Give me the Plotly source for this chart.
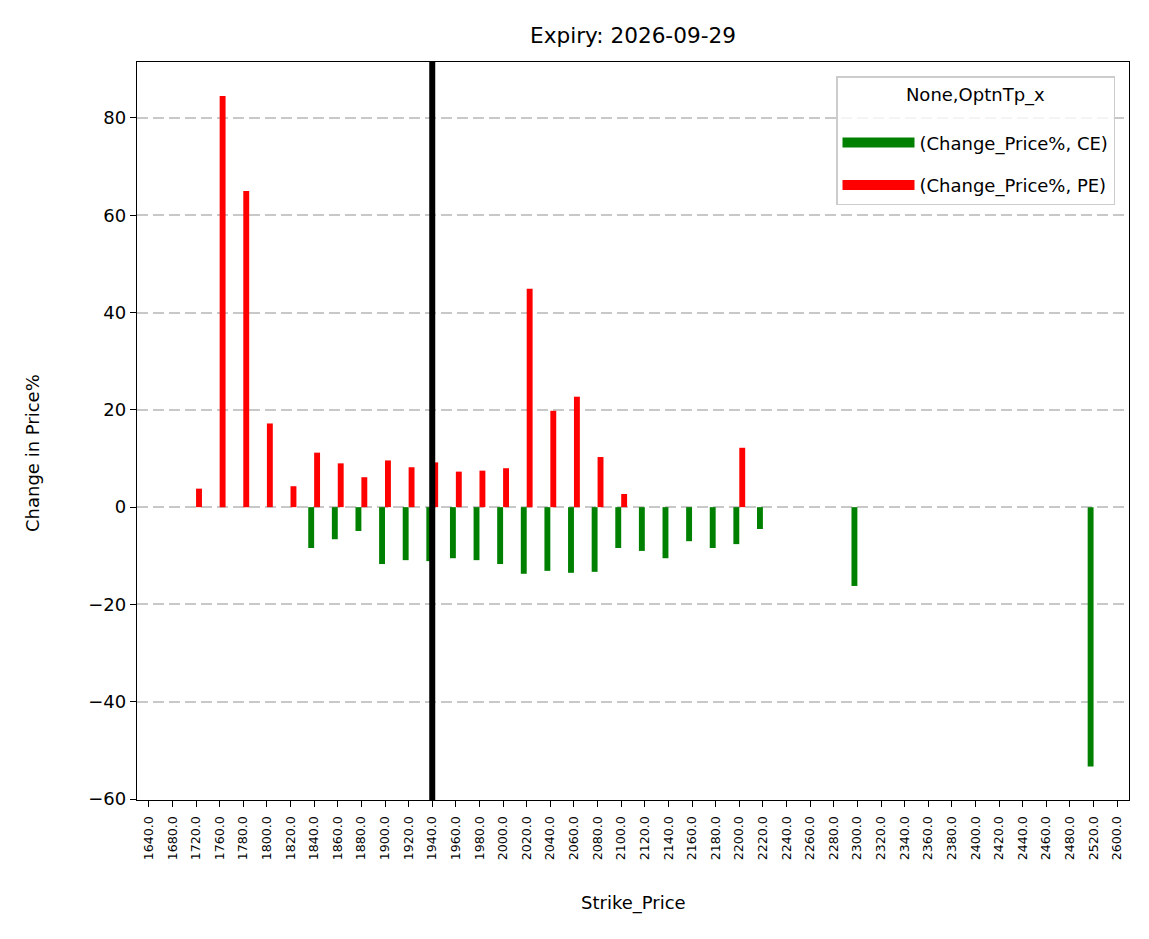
import plotly.graph_objects as go

strikes = [1640, 1680, 1720] + list(range(1760, 2500, 20)) + [2520, 2600]
strike_labels = [f"{s:.1f}" for s in strikes]

ce_map = {
    1840: -8.4, 1860: -6.6, 1880: -4.9, 1900: -11.7, 1920: -10.9, 1940: -11.1,
    1960: -10.5, 1980: -10.9, 2000: -11.7, 2020: -13.7, 2040: -13.1, 2060: -13.5,
    2080: -13.3, 2100: -8.4, 2120: -9.0, 2140: -10.5, 2160: -7.0, 2180: -8.4,
    2200: -7.6, 2220: -4.5, 2300: -16.2, 2520: -53.3,
}
pe_map = {
    1720: 3.8, 1760: 84.5, 1780: 65.0, 1800: 17.2, 1820: 4.3, 1840: 11.2,
    1860: 9.0, 1880: 6.15, 1900: 9.6, 1920: 8.2, 1940: 9.2, 1960: 7.3,
    1980: 7.5, 2000: 8.0, 2020: 44.9, 2040: 19.8, 2060: 22.7, 2080: 10.3,
    2100: 2.7, 2200: 12.2,
}
ce_values = [ce_map.get(s) for s in strikes]
pe_values = [pe_map.get(s) for s in strikes]
atm_strike = "1940.0"

series_names = ["(Change_Price%, CE)", "(Change_Price%, PE)"]
series_colors = ["#008000", "#ff0000"]

y_ticks = [-60, -40, -20, 0, 20, 40, 60, 80]
y_tick_text = [("\u2212" + str(-v)) if v < 0 else str(v) for v in y_ticks]

FONT = "DejaVu Sans"
OFF = 8  # page body margin offset
W, H = 1149 - OFF, 939 - OFF
L, T, R, B = 137 - OFF, 62 - OFF, 20, 139
PW, PH = W - L - R, H - T - B

fig = go.Figure()
for vals, name, col in zip([ce_values, pe_values], series_names, series_colors):
    fig.add_trace(go.Bar(x=strike_labels, y=vals, name=name, legendgroup=name,
                         showlegend=False, marker=dict(color=col, line=dict(width=0))))
for name, col in zip(series_names, series_colors):
    fig.add_trace(go.Scatter(x=[None], y=[None], mode="lines", name=name, legendgroup=name,
                             line=dict(color=col, width=20), showlegend=True))

atm_idx = strike_labels.index(atm_strike)
fig.add_shape(type="line", xref="x", yref="paper", x0=atm_idx, x1=atm_idx, y0=0, y1=1,
              line=dict(color="black", width=6), layer="above")

fig.update_layout(
    width=W, height=H,
    margin=dict(l=L, r=R, t=T, b=B, autoexpand=False),
    paper_bgcolor="white", plot_bgcolor="white",
    font=dict(family=FONT, color="black", size=18),
    barmode="group", bargap=0.5, bargroupgap=0,
    title=dict(text="Expiry: 2026-09-29", x=0.5, xref="paper", xanchor="center",
               y=1 - (35 - OFF) / H, yanchor="middle", font=dict(size=21.6, family=FONT)),
    legend=dict(
        title=dict(text="None,OptnTp_x<br> ", side="top center", font=dict(size=18)),
        x=(1115 - 137) / PW, y=(800 - 76) / PH, xanchor="right", yanchor="top",
        bgcolor="rgba(255,255,255,0.8)", bordercolor="#cccccc", borderwidth=1.5,
        font=dict(size=18), itemwidth=72, tracegroupgap=16,
    ),
    showlegend=True,
)

fig.update_xaxes(
    type="category", categoryorder="array", categoryarray=strike_labels,
    range=[-0.5, len(strikes) - 0.5],
    tickangle=-90, tickfont=dict(size=12.6), ticklabelstandoff=4,
    ticks="outside", ticklen=6, tickwidth=1.4, tickcolor="black",
    showline=True, linecolor="black", linewidth=1.4, mirror=True,
    showgrid=False, zeroline=False,
)
fig.update_yaxes(
    range=[-60.2, 91.5], tickvals=y_ticks, ticktext=y_tick_text,
    ticks="outside", ticklen=6, tickwidth=1.4, tickcolor="black",
    showline=True, linecolor="black", linewidth=1.4, mirror=True,
    showgrid=True, gridcolor="#c8c8c8", griddash="11px,5px", gridwidth=1.5,
    zeroline=False,
)

fig.add_annotation(text="Strike_Price", xref="paper", yref="paper", x=(633 - 137) / PW,
                   y=(800 - 903) / PH, showarrow=False, xanchor="center", yanchor="middle",
                   font=dict(size=18))
fig.add_annotation(text="Change in Price%", xref="paper", yref="paper", x=(32 - 137) / PW,
                   y=(800 - 453) / PH, showarrow=False, xanchor="center", yanchor="middle",
                   textangle=-90, font=dict(size=18))

fig.write_html("out.html")
